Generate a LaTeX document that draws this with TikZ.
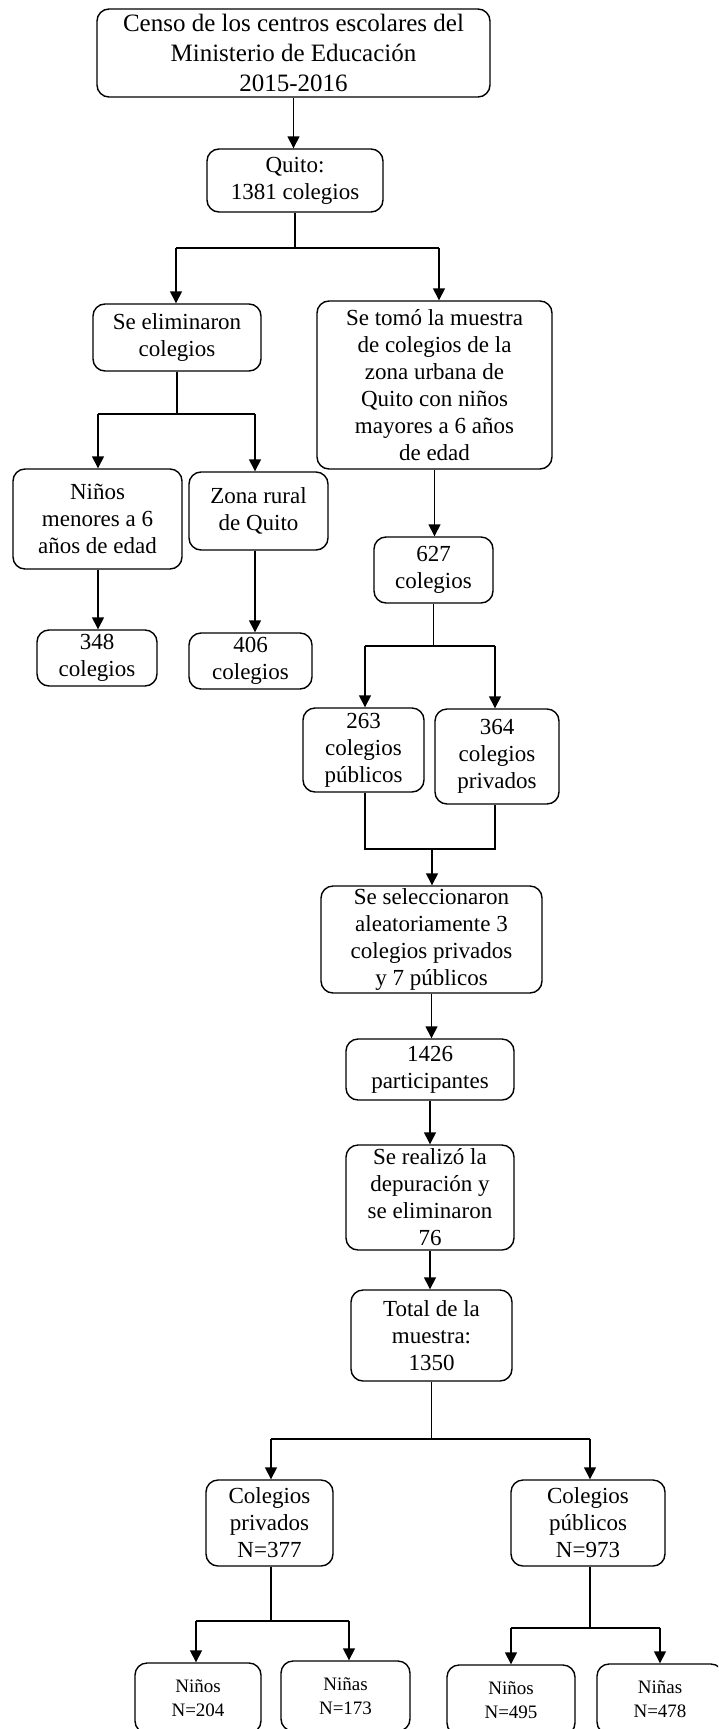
\documentclass[tikz,border=0pt]{standalone}
\usepackage{fontspec}
\setmainfont{Liberation Serif}
\usetikzlibrary{arrows.meta}
\tikzset{
  caja/.style={draw,line width=1.4pt,rounded corners=12pt,align=center,inner sep=0pt,font=\fontsize{23}{27}\selectfont},
  chica/.style={caja,font=\fontsize{19}{24}\selectfont,minimum width=127pt,minimum height=70pt},
  linea/.style={line width=1.4pt},
  flecha/.style={line width=1.4pt,-{Triangle[length=12pt,width=12pt]}}
}
\begin{document}
\begin{tikzpicture}[x=1pt,y=-1pt]
\useasboundingbox (0,0) rectangle (718,1729);
\clip (0,0) rectangle (718,1729);
\node[caja,minimum width=393pt,minimum height=88pt,font=\fontsize{25}{30}\selectfont] (censo) at (293.5,53) {Censo de los centros escolares del\\Ministerio de Educación\\2015-2016};
\node[caja,minimum width=176pt,minimum height=63pt] (quito) at (295,180.5) {Quito:\\1381 colegios};
\node[caja,minimum width=168pt,minimum height=67pt] (elim) at (177,337.5) {Se eliminaron\\colegios};
\node[caja,minimum width=235pt,minimum height=168pt] (muestra) at (434.5,385) {Se tomó la muestra\\de colegios de la\\zona urbana de\\Quito con niños\\mayores a 6 años\\de edad};
\node[caja,minimum width=169pt,minimum height=100pt] (menores) at (97.5,519) {Niños\\menores a 6\\años de edad};
\node[caja,minimum width=139pt,minimum height=78pt] (rural) at (258.5,511) {Zona rural\\de Quito};
\node[caja,minimum width=120pt,minimum height=56pt] (c348) at (97,658) {348\\colegios};
\node[caja,minimum width=123pt,minimum height=56pt] (c406) at (250.5,661) {406\\colegios};
\node[caja,minimum width=119pt,minimum height=66pt] (c627) at (433.5,570) {627\\colegios};
\node[caja,minimum width=121pt,minimum height=84pt] (pub263) at (363.5,750) {263\\colegios\\públicos};
\node[caja,minimum width=124pt,minimum height=95pt] (priv364) at (497,756.5) {364\\colegios\\privados};
\node[caja,minimum width=221pt,minimum height=107pt] (selec) at (431.5,939.5) {Se seleccionaron\\aleatoriamente 3\\colegios privados\\y 7 públicos};
\node[caja,minimum width=168pt,minimum height=61pt] (part) at (430,1069.5) {1426\\participantes};
\node[caja,minimum width=168pt,minimum height=105pt] (depur) at (430,1197.5) {Se realizó la\\depuración y\\se eliminaron\\76};
\node[caja,minimum width=161pt,minimum height=91pt] (total) at (431.5,1335.5) {Total de la\\muestra:\\1350};
\node[caja,minimum width=127pt,minimum height=86pt] (priv) at (269.5,1523) {Colegios\\privados\\N=377};
\node[caja,minimum width=154pt,minimum height=86pt] (pubc) at (588,1523) {Colegios\\públicos\\N=973};
\node[chica,minimum width=126pt] (n204) at (198,1698) {Niños\\N=204};
\node[chica,minimum width=129pt] (n173) at (345.5,1696) {Niñas\\N=173};
\node[chica,minimum width=128pt] (n495) at (511,1700) {Niños\\N=495};
\node[chica,minimum width=126pt] (n478) at (660,1699) {Niñas\\N=478};

\coordinate (j1l) at (176,248);
\coordinate (j1r) at (439,248);
\coordinate (j2l) at (98,414);
\coordinate (j2r) at (255,414);
\coordinate (j3l) at (365,646);
\coordinate (j3r) at (495,646);
\coordinate (j4l) at (365,849);
\coordinate (j4m) at (432,849);
\coordinate (j4r) at (495,849);
\coordinate (j5l) at (271,1439);
\coordinate (j5r) at (590,1439);
\coordinate (j6l) at (196,1621);
\coordinate (j6r) at (349,1621);
\coordinate (j7l) at (511,1628);
\coordinate (j7r) at (660,1628);

\draw[flecha] (censo.south) -- (censo.south |- quito.north);
\draw[linea] (quito.south) -- (quito.south |- j1l);
\draw[linea] (j1l) -- (j1r);
\draw[flecha] (j1l) -- (j1l |- elim.north);
\draw[flecha] (j1r) -- (j1r |- muestra.north);

\draw[linea] (elim.south) -- (elim.south |- j2l);
\draw[linea] (j2l) -- (j2r);
\draw[flecha] (j2l) -- (j2l |- menores.north);
\draw[flecha] (j2r) -- (j2r |- rural.north);
\draw[flecha] (j2l |- menores.south) -- (j2l |- c348.north);
\draw[flecha] (j2r |- rural.south) -- (j2r |- c406.north);

\draw[flecha] (muestra.south) -- (muestra.south |- c627.north);
\draw[linea] (c627.south) -- (c627.south |- j3l);
\draw[linea] (j3l) -- (j3r);
\draw[flecha] (j3l) -- (j3l |- pub263.north);
\draw[flecha] (j3r) -- (j3r |- priv364.north);
\draw[linea] (j3l |- pub263.south) -- (j4l) -- (j4r) -- (j3r |- priv364.south);
\draw[flecha] (j4m) -- (j4m |- selec.north);

\draw[flecha] (selec.south) -- (selec.south |- part.north);
\draw[flecha] (part.south) -- (part.south |- depur.north);
\draw[flecha] (depur.south) -- (depur.south |- total.north);

\draw[linea] (total.south) -- (total.south |- j5l);
\draw[linea] (j5l) -- (j5r);
\draw[flecha] (j5l) -- (j5l |- priv.north);
\draw[flecha] (j5r) -- (j5r |- pubc.north);

\draw[linea] (j5l |- priv.south) -- (j5l |- j6l);
\draw[linea] (j6l) -- (j6r);
\draw[flecha] (j6l) -- (j6l |- n204.north);
\draw[flecha] (j6r) -- (j6r |- n173.north);

\draw[linea] (j5r |- pubc.south) -- (j5r |- j7l);
\draw[linea] (j7l) -- (j7r);
\draw[flecha] (j7l) -- (j7l |- n495.north);
\draw[flecha] (j7r) -- (j7r |- n478.north);
\end{tikzpicture}
\end{document}
